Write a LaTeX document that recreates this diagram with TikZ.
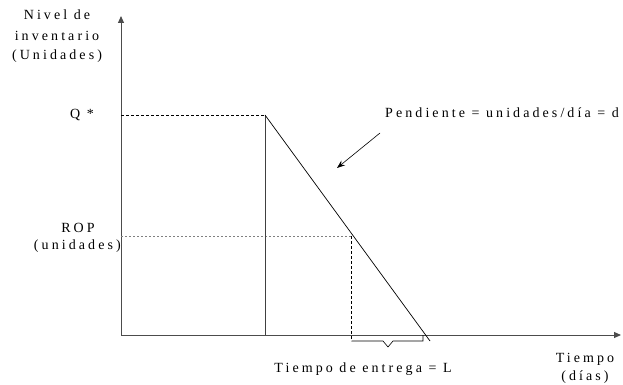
\documentclass[tikz,border=0pt]{standalone}
\usepackage{fontspec}
\setmainfont{Liberation Serif}
\newfontfamily\spaced[LetterSpace=22]{Liberation Serif}
\usetikzlibrary{arrows.meta}
\tikzset{
  lbl/.style={font=\spaced\fontsize{14}{16}\selectfont, inner sep=0pt, text=black},
  axis/.style={line width=1pt, draw=black!70, -{Triangle[length=7pt,width=6pt]}},
  guide/.style={line width=0.6pt, dash pattern=on 3pt off 2pt},
  dotguide/.style={line width=0.4pt, draw=black!50, dash pattern=on 2pt off 2pt},
  curve/.style={line width=0.7pt, black},
}
\begin{document}
\begin{tikzpicture}[x=1pt,y=-1pt]
\useasboundingbox (0,0) rectangle (623,385);
% key points
\coordinate (O) at (121,335);
\coordinate (ytop) at (121,16);
\coordinate (xend) at (621,335);
\coordinate (qy) at (121,115);
\coordinate (qtop) at (265,115);
\coordinate (qbot) at (265,335);
\coordinate (dend) at (430,341);
\coordinate (ropy) at (121,236);
\coordinate (ropx) at (351.5,236);
\coordinate (ropb) at (351.5,341);
\coordinate (brm) at (383,341);
\coordinate (brn) at (388,347);
\coordinate (brp) at (393,341);
\coordinate (brr) at (423,341);
\coordinate (brt) at (423,335);
\coordinate (a1) at (380,133);
\coordinate (a2) at (337,168);
% axes
\draw[axis] (O) -- (ytop);
\draw[axis] (O) -- (xend);
% guides
\draw[guide] (qy) -- (qtop);
\draw[dotguide] (ropy) -- (ropx);
\draw[guide] (ropx) -- (ropb);
% cycle
\draw[line width=0.9pt, black!75] (qtop) -- (qbot);
\draw[curve] (qtop) -- (dend);
% bracket
\draw[line width=0.6pt] (ropb) -- (brm) -- (brn) -- (brp) -- (brr) -- (brt);
% arrow
\draw[line width=0.6pt, -{Stealth[length=8pt,width=6pt]}] (a1) -- (a2);
% labels
\node[lbl] (ylab1) at (57,14.5) {Nivel de};
\node[lbl] (ylab2) at (57,35.5) {inventario};
\node[lbl] (ylab3) at (57,56) {(Unidades)};
\node[lbl] (q) at (82,115) {Q *};
\node[lbl] (rop1) at (78,228) {ROP};
\node[lbl, anchor=east] (rop2) at (121,246) {(unidades)};
\node[lbl, anchor=west] (pend) at (385,113) {Pendiente = unidades/día = d};
\node[lbl] (lt) at (363,369) {Tiempo de entrega = L};
\node[lbl] (t1) at (585,359) {Tiempo};
\node[lbl] (t2) at (585,377) {(días)};
\end{tikzpicture}
\end{document}
